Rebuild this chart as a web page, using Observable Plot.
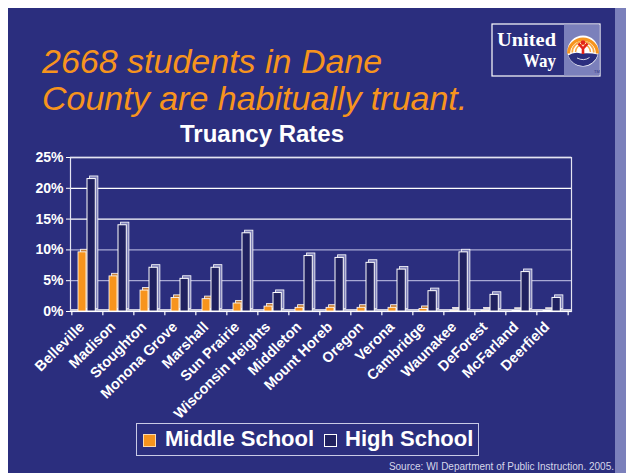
<!DOCTYPE html>
<html>
<head>
<meta charset="utf-8">
<script src="https://cdn.jsdelivr.net/npm/d3@7"></script>
<script src="https://cdn.jsdelivr.net/npm/@observablehq/plot@0.6"></script>
<style>
  html, body { margin: 0; padding: 0; background: #ffffff; }
  #page { position: relative; width: 626px; height: 473px; overflow: hidden; background: #ffffff; font-family: "Liberation Sans", Arial, sans-serif; }
  #panel { position: absolute; left: 8px; top: 8px; width: 607px; height: 465px; background: #2b2e7e; }
  #strip { position: absolute; left: 615px; top: 8px; width: 11px; height: 465px; background: #7b80bb; }
  .abs { position: absolute; white-space: nowrap; line-height: 1; }
  .title { left: 42px; font-size: 34px; font-style: italic; color: #f7941d; }
  #chartTitle { left: 162px; width: 200px; text-align: center; top: 121.5px; font-size: 24px; font-weight: bold; color: #ffffff; }
  #chart { position: absolute; left: 0; top: 150px; }
  #legend { position: absolute; left: 136px; top: 423px; width: 343px; height: 33px; box-sizing: border-box; border: 1px solid #c9cae6; }
  .sw { position: absolute; width: 13px; height: 13px; box-sizing: border-box; }
  .lt { font-size: 22px; font-weight: bold; color: #ffffff; }
  #source { right: 12px; top: 462px; font-size: 10px; color: #d6d7ea; }
  #logo { position: absolute; left: 491px; top: 23px; }
</style>
</head>
<body>
<div id="page">
  <div id="panel"></div>
  <div id="strip"></div>
  <div class="abs title" id="t1" style="top:44px">2668 students in Dane</div>
  <div class="abs title" id="t2" style="top:81px">County are habitually truant.</div>
  <div class="abs" id="chartTitle">Truancy Rates</div>
  <svg id="logo" width="114" height="56" viewBox="0 0 114 56">
    <rect x="1" y="1" width="108" height="52" fill="#2b2e7e" stroke="#ffffff" stroke-width="1.2"/>
    <rect x="73" y="1.6" width="35.4" height="50.8" fill="#7b80bb"/>
    <text x="6" y="23" font-family="Liberation Serif, DejaVu Serif, serif" font-weight="bold" font-size="19" fill="#ffffff" textLength="59" lengthAdjust="spacingAndGlyphs">United</text>
    <text x="32" y="44" font-family="Liberation Serif, DejaVu Serif, serif" font-weight="bold" font-size="19" fill="#ffffff" textLength="33" lengthAdjust="spacingAndGlyphs">Way</text>
    <circle cx="92" cy="28" r="15.5" fill="#ffffff"/>
    <path d="M77.6,30.5 A14.4,14.4 0 1 1 106.4,30.5" fill="none" stroke="#f7941d" stroke-width="3.2"/>
    <path d="M81.2,29.5 A10.8,10.8 0 1 1 102.8,29.5" fill="none" stroke="#f9a845" stroke-width="1.8"/>
    <path d="M84.5,29 A7.5,7.5 0 1 1 99.5,29" fill="none" stroke="#f9a845" stroke-width="1.5"/>
    <path d="M77.2,32.5 Q83,28.5 90,30.5 Q99,29.5 106.8,31.5 A15.5,15.5 0 0 1 77.2,32.5 Z" fill="#2b2e7e"/>
    <path d="M86,35 Q93,38.5 98.5,34.5" fill="none" stroke="#ffffff" stroke-width="0.8"/>
    <circle cx="92" cy="19.5" r="2.3" fill="#e2231a"/>
    <path d="M87.5,20.5 L92,25.5 L96.5,20.5 M92,25.5 L92,31" fill="none" stroke="#e2231a" stroke-width="2.6"/>
    <text x="103" y="50" font-family="Liberation Sans, sans-serif" font-size="4" fill="#2b2e7e">TM</text>
  </svg>
  <div id="chart"></div>
  <div id="legend"></div>
  <div class="sw" style="left:143px; top:434px; background:#f7941d; border:1px solid #ffd9a8;"></div>
  <div class="abs lt" style="left:165px; top:428px;">Middle School</div>
  <div class="sw" style="left:324px; top:434px; background:#20215f; border:1.2px solid #ffffff;"></div>
  <div class="abs lt" style="left:345px; top:428px;">High School</div>
  <div class="abs" id="source">Source: WI Department of Public Instruction. 2005.</div>
</div>
<script>
// ---- data ----
const schools = ["Belleville", "Madison", "Stoughton", "Monona Grove", "Marshall", "Sun Prairie",
  "Wisconsin Heights", "Middleton", "Mount Horeb", "Oregon", "Verona", "Cambridge",
  "Waunakee", "DeForest", "McFarland", "Deerfield"];
const middleSchool = [9.6, 5.7, 3.4, 2.2, 2.0, 1.3, 0.8, 0.6, 0.6, 0.6, 0.6, 0.4, 0.15, 0.15, 0.1, 0.1];
const highSchool = [21.5, 14.0, 7.1, 5.3, 7.1, 12.7, 3.0, 9.0, 8.7, 7.9, 6.8, 3.3, 9.6, 2.7, 6.4, 2.2];
const yTicks = [0, 5, 10, 15, 20, 25];
const seriesNames = ["Middle School", "High School"];

const msData = schools.map((s, i) => ({school: s, type: seriesNames[0], value: middleSchool[i]}));
const hsData = schools.map((s, i) => ({school: s, type: seriesNames[1], value: highSchool[i]}));

const W = 626, ML = 70, MR = 55;
const bw = (W - ML - MR) / schools.length;
const depth = 2.6;

const msInset = {insetLeft: 5, insetRight: bw - 13.3};
const hsInset = {insetLeft: 14, insetRight: bw - 22.6};

const chart = Plot.plot({
  width: W,
  height: 286,
  marginLeft: ML,
  marginRight: MR,
  marginTop: 7,
  marginBottom: 125,
  style: {background: "transparent", color: "#ffffff", fontFamily: "Liberation Sans, Arial, sans-serif", fontSize: "14px", fontWeight: "bold"},
  x: {domain: schools, padding: 0, axis: null},
  y: {domain: [0, 25], ticks: yTicks, tickFormat: d => d + "%", tickSize: 4, tickPadding: 3, label: null},
  marks: [
    Plot.ruleY([5, 10], {stroke: "#a8a9d4", strokeWidth: 1.3}),
    Plot.ruleY([15, 20, 25], {stroke: "#ffffff", strokeWidth: 1.3}),
    Plot.frame({stroke: "#e4e4f2", strokeWidth: 1.2}),
    Plot.ruleY([0], {stroke: "#c9c9dc", strokeWidth: 3, dy: -1}),
    Plot.ruleY([0], {stroke: "#ffffff", strokeWidth: 1.2}),
    Plot.ruleX(schools, {x: d => d, y1: 0, y2: -0.7, dx: -bw / 2 - 1.5, stroke: "#ffffff", strokeWidth: 1.2}),
    Plot.ruleX([schools[schools.length - 1]], {x: d => d, y1: 0, y2: -0.7, dx: bw / 2 - 1.5, stroke: "#ffffff", strokeWidth: 1.2}),
    // 3D back faces
    Plot.barY(msData, {x: "school", y: "value", ...msInset, dx: depth, dy: -depth, fill: "#c8823c", stroke: "#ffffff", strokeWidth: 0.8}),
    Plot.barY(hsData, {x: "school", y: "value", ...hsInset, dx: depth, dy: -depth, fill: "#7f81b8", stroke: "#ffffff", strokeWidth: 0.8}),
    // front faces
    Plot.barY(msData, {x: "school", y: "value", ...msInset, fill: "#f7941d", stroke: "#ffffff", strokeWidth: 0.8}),
    Plot.barY(hsData, {x: "school", y: "value", ...hsInset, fill: "#20215f", stroke: "#ffffff", strokeWidth: 1}),
    Plot.text(schools, {x: d => d, y: 0, text: d => d, rotate: -45, textAnchor: "end", dx: -7, dy: 13, fill: "#ffffff", fontSize: 14.5, fontWeight: "bold"})
  ]
});
document.getElementById("chart").appendChild(chart);
</script>
</body>
</html>
